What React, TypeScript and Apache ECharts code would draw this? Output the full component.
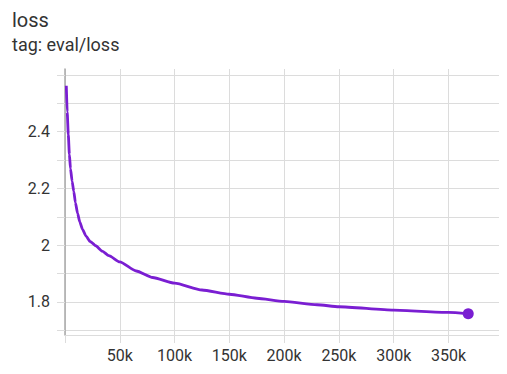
import React, { useEffect, useRef } from "react";
import * as echarts from "echarts";

const steps = [1200, 2000, 3000, 4000, 5000, 6500, 8000, 9500, 11500, 13500, 16000, 19000, 23000, 28000, 34000, 40000, 50000, 65000, 80000, 100000, 125000, 150000, 175000, 200000, 230000, 250000, 300000, 350000, 368000];
const losses = [2.562, 2.47, 2.39, 2.32, 2.27, 2.225, 2.19, 2.15, 2.112, 2.082, 2.056, 2.033, 2.013, 1.998, 1.979, 1.963, 1.941, 1.909, 1.886, 1.866, 1.842, 1.827, 1.813, 1.802, 1.79, 1.783, 1.771, 1.763, 1.758];

const xTicks = [0, 50000, 100000, 150000, 200000, 250000, 300000, 350000];
const xLabels = [50000, 100000, 150000, 200000, 250000, 300000, 350000];
const yTicks = [1.7, 1.8, 1.9, 2.0, 2.1, 2.2, 2.3, 2.4, 2.5, 2.6];
const yLabels = [1.8, 2.0, 2.2, 2.4];

const titleText = "loss";
const subtitleText = "tag: eval/loss";

const FONT = "Roboto";
const GRID = "#dcdcdc";
const PURPLE = "#7a1ed2";

export default function App() {
  const ref = useRef<HTMLDivElement>(null);
  useEffect(() => {
    if (!ref.current) return;
    const chart = echarts.init(ref.current, null, { renderer: "svg" });
    const last = steps.length - 1;
    chart.setOption({
      animation: false,
      backgroundColor: "#fff",
      graphic: [
        {
          type: "text",
          x: 12,
          y: 10,
          style: { text: titleText, font: `20px ${FONT}`, fill: "#333", align: "left", verticalAlign: "top" },
        },
        {
          type: "text",
          x: 12,
          y: 35,
          style: { text: subtitleText, font: `18px ${FONT}`, fill: "#333", align: "left", verticalAlign: "top" },
        },
      ],
      grid: { left: 65, right: 7, top: 69, bottom: 39 },
      xAxis: {
        type: "value",
        min: 0,
        max: 397000,
        axisLine: { show: true, lineStyle: { color: GRID, width: 1 } },
        axisTick: { show: true, length: 8, customValues: xTicks, lineStyle: { color: GRID } },
        splitLine: { show: true, lineStyle: { color: GRID, width: 1 } },
        axisLabel: {
          customValues: xLabels,
          margin: 12,
          fontFamily: FONT,
          fontSize: 16,
          color: "#333",
          formatter: (v: number) => (v === 0 ? "" : v / 1000 + "k"),
        },
      },
      yAxis: {
        type: "value",
        min: 1.6834,
        max: 2.621,
        axisLine: { show: true, lineStyle: { color: "#a8a8a8", width: 1.5 } },
        axisTick: { show: true, length: 8, customValues: yTicks, lineStyle: { color: GRID } },
        splitLine: { show: true, lineStyle: { color: GRID, width: 1 } },
        axisLabel: {
          customValues: yLabels,
          margin: 15,
          fontFamily: FONT,
          fontSize: 16,
          color: "#333",
          formatter: (v: number) => String(Math.round(v * 10) / 10),
        },
      },
      series: [
        {
          type: "line",
          data: steps.map((s, i) => [s, losses[i]]),
          showSymbol: false,
          smooth: 0.2,
          smoothMonotone: "x",
          lineStyle: { color: PURPLE, width: 2.8 },
          itemStyle: { color: PURPLE },
        },
        {
          type: "scatter",
          data: [[steps[last], losses[last]]],
          symbolSize: 11,
          itemStyle: { color: PURPLE, opacity: 1 },
        },
      ],
    });
    return () => chart.dispose();
  }, []);
  return <div ref={ref} style={{ width: 507, height: 374, margin: -8 }} />;
}
